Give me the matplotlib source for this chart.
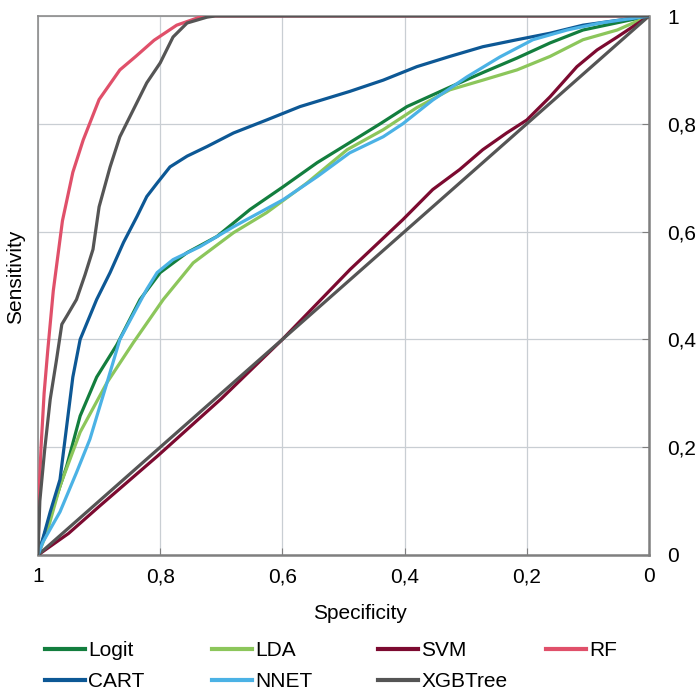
#!/usr/bin/env python3
import matplotlib

matplotlib.use("Agg")
import matplotlib.pyplot as plt
from matplotlib.lines import Line2D
from matplotlib.ticker import FuncFormatter

# values (specificity, sensitivity)
logit_spec = [1, .975, .953, .931, .904, .871, .833, .80, .756, .707, .653, .599, .543, .49,
              .44, .396, .326, .272, .216, .162, .108, 0]
logit_sens = [0, .09, .165, .258, .33, .39, .474, .524, .561, .591, .641, .683, .728, .765,
              .80, .832, .868, .895, .922, .95, .974, 1]

lda_spec = [1, .985, .964, .931, .887, .844, .795, .746, .68, .626, .56, .494, .435, .38,
            .326, .272, .216, .162, .108, .052, 0]
lda_sens = [0, .043, .128, .228, .32, .394, .474, .542, .598, .635, .69, .752, .789, .83,
            .863, .881, .90, .925, .956, .974, 1]

svm_spec = [1, .95, .90, .805, .70, .60, .489, .403, .354, .31, .272, .233, .20, .162,
            .118, .085, .052, 0]
svm_sens = [0, .04, .09, .183, .29, .40, .53, .622, .678, .715, .752, .783, .807, .85,
            .906, .937, .961, 1]

rf_spec = [1, .998, .995, .99, .984, .975, .96, .943, .926, .90, .866, .84, .81, .773,
           .735, .71, 0]
rf_sens = [0, .12, .2, .3, .38, .49, .62, .71, .77, .845, .90, .925, .955, .983,
           .998, 1, 1]

cart_spec = [1, .997, .98, .964, .943, .931, .904, .882, .86, .838, .822, .805, .784, .756,
             .723, .68, .626, .571, .49, .435, .38, .326, .272, .216, .162, .108, 0]
cart_sens = [0, .01, .08, .14, .33, .40, .474, .524, .58, .628, .665, .69, .72, .74,
             .758, .783, .807, .832, .86, .881, .906, .925, .943, .956, .968, .983, 1]

nnet_spec = [1, .992, .964, .937, .915, .887, .866, .822, .805, .779, .735, .68, .599, .543,
             .49, .435, .403, .354, .298, .244, .19, .134, .08, 0]
nnet_sens = [0, .024, .08, .153, .215, .32, .40, .493, .524, .548, .572, .609, .659, .702,
             .746, .776, .80, .844, .887, .924, .956, .974, .987, 1]

xgb_spec = [1, .997, .989, .98, .97, .961, .952, .937, .923, .91, .90, .882, .866, .844,
            .822, .80, .779, .756, .723, .71, 0]
xgb_sens = [0, .10, .196, .289, .36, .428, .445, .474, .52, .567, .646, .72, .776, .826,
            .876, .913, .961, .987, .998, 1, 1]

ref_spec = [1, 0]
ref_sens = [0, 1]

ticks = [0, 0.2, 0.4, 0.6, 0.8, 1]

series = [
    ("Logit", logit_spec, logit_sens, "#137E3E"),
    ("LDA", lda_spec, lda_sens, "#8CC65B"),
    ("SVM", svm_spec, svm_sens, "#7C0A30"),
    ("RF", rf_spec, rf_sens, "#E0506A"),
    ("CART", cart_spec, cart_sens, "#0D5895"),
    ("NNET", nnet_spec, nnet_sens, "#4BB2E5"),
    ("XGBTree", xgb_spec, xgb_sens, "#555555"),
]


def fmt(v, _pos):
    if abs(v) < 1e-9:
        return "0"
    if abs(v - 1) < 1e-9:
        return "1"
    return f"{v:.1f}".replace(".", ",")


plt.rcParams.update({
    "font.family": ["Liberation Sans", "DejaVu Sans"],
    "font.size": 15,
})

fig = plt.figure(figsize=(7.0, 6.94), dpi=100)
ax = fig.add_axes([38 / 700, 1 - 555 / 694, 611 / 700, 539 / 694])

lw = 2.3
handles = {}
for name, xs, ys, col in series:
    (h,) = ax.plot(xs, ys, color=col, lw=lw, solid_capstyle="round", zorder=3)
    handles[name] = h
    if name == "SVM":
        ax.plot(ref_spec, ref_sens, color="#555555", lw=lw, zorder=3)

ax.set_xlim(1, 0)
ax.set_ylim(0, 1)
ax.set_xticks(ticks)
ax.set_yticks(ticks)
ax.xaxis.set_major_formatter(FuncFormatter(fmt))
ax.yaxis.set_major_formatter(FuncFormatter(fmt))
ax.yaxis.tick_right()
ax.tick_params(axis="x", direction="in", length=5, color="#7F7F7F", pad=9, labelsize=15)
ax.tick_params(axis="y", direction="in", length=5, color="#7F7F7F", pad=13, labelsize=15)

ax.grid(True, color="#C9CED3", lw=0.9)
ax.set_axisbelow(True)
for side in ("left", "top"):
    ax.spines[side].set_color("#8C8C8C")
    ax.spines[side].set_linewidth(1.2)
for side in ("right", "bottom"):
    ax.spines[side].set_color("#7F7F7F")
    ax.spines[side].set_linewidth(1.8)

ax.set_xlabel("Specificity", fontsize=15)
ax.xaxis.set_label_coords((360 - 38) / 611, -0.09)
ax.set_ylabel("Sensitivity", fontsize=15)
ax.yaxis.set_label_position("left")
ax.yaxis.set_label_coords(-0.022, (555 - 277) / 539)

# legend laid out as a fixed 4-column grid
columns = [["Logit", "CART"], ["LDA", "NNET"], ["SVM", "XGBTree"], ["RF"]]
col_x = [45, 212, 378, 546]
for names, xpx in zip(columns, col_x):
    hs = [Line2D([], [], color=handles[n].get_color(), lw=3) for n in names]
    fig.legend(hs, names, loc="upper left", bbox_to_anchor=(xpx / 700, 1 - 641 / 694),
               frameon=False, borderpad=0, borderaxespad=0, handlelength=1.92,
               handletextpad=0.15, labelspacing=0.58, fontsize=15)

fig.savefig("out.png", dpi=100)
plt.close(fig)
